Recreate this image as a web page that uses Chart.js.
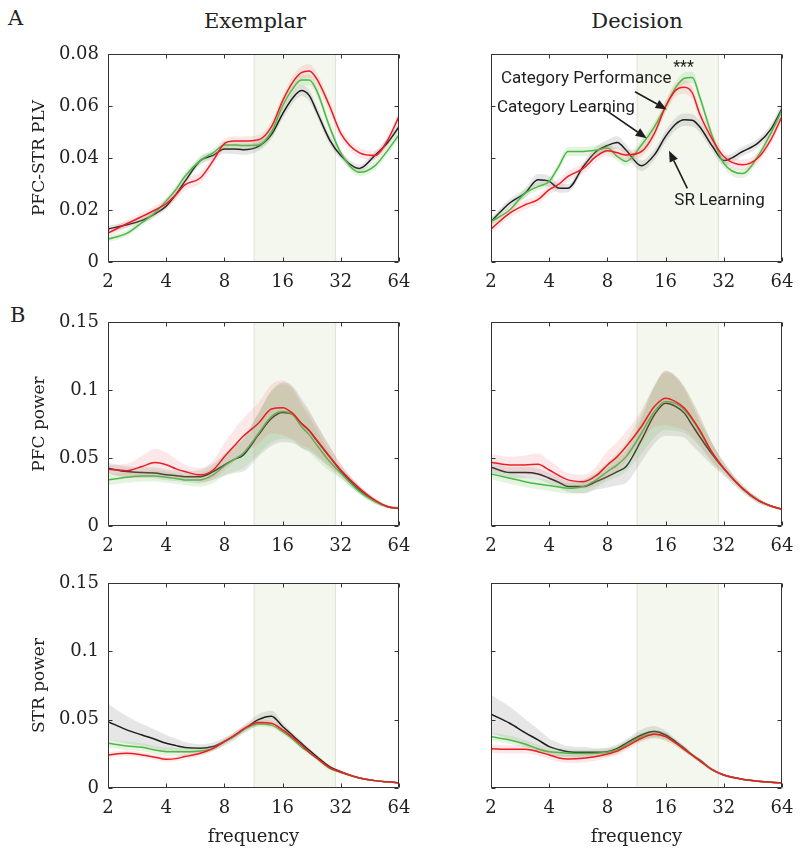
<!DOCTYPE html>
<html>
<head>
<meta charset="utf-8">
<script src="https://cdn.jsdelivr.net/npm/chart.js@4.4.1/dist/chart.umd.min.js"></script>
<style>
  body { margin: 0; background: #fff; width: 800px; height: 856px; position: relative; overflow: hidden; font-family: 'DejaVu Serif', serif; color: #222; }
  canvas { position: absolute; }
  .lbl { position: absolute; font-size: 21px; line-height: 1; white-space: nowrap; }
  .ctr { transform: translateX(-50%); }
</style>
</head>
<body>
<div class="lbl" style="left:8px;top:8px">A</div>
<div class="lbl" style="left:10px;top:305px">B</div>
<div class="lbl ctr" style="left:255px;top:11px">Exemplar</div>
<div class="lbl ctr" style="left:637px;top:11px">Decision</div>
<script>
// frequency axis (Hz), shared by every panel
const freqs = [2, 2.5, 3, 3.5, 4, 4.5, 5, 6, 7, 8, 9, 10, 12, 14, 16, 18, 20, 22, 24, 28, 32, 40, 48, 56, 64];
const freqTicks = [2, 4, 8, 16, 32, 64];
const betaBand = [11.4, 30];
const plvTicks = [0, 0.02, 0.04, 0.06, 0.08];
const powerTicks = [0, 0.05, 0.1, 0.15];

// PFC-STR PLV, exemplar period
const plvExSR      = [0.0127, 0.0143, 0.0160, 0.0185, 0.0215, 0.0260, 0.0310, 0.0390, 0.0410, 0.0435, 0.0435, 0.0432, 0.0445, 0.0490, 0.0570, 0.0630, 0.0660, 0.0640, 0.0580, 0.0470, 0.0410, 0.0360, 0.0410, 0.0460, 0.0520];
const plvExSRErr   = [0.0012, 0.0012, 0.0012, 0.0012, 0.0012, 0.0013, 0.0014, 0.0015, 0.0016, 0.0018, 0.0020, 0.0020, 0.0018, 0.0018, 0.0020, 0.0022, 0.0022, 0.0022, 0.0020, 0.0018, 0.0016, 0.0015, 0.0015, 0.0016, 0.0018];
const plvExCatL    = [0.0088, 0.0110, 0.0152, 0.0190, 0.0235, 0.0280, 0.0330, 0.0390, 0.0420, 0.0450, 0.0450, 0.0448, 0.0450, 0.0500, 0.0600, 0.0665, 0.0700, 0.0700, 0.0660, 0.0520, 0.0420, 0.0345, 0.0370, 0.0430, 0.0490];
const plvExCatLErr = [0.0012, 0.0012, 0.0012, 0.0013, 0.0013, 0.0014, 0.0015, 0.0015, 0.0015, 0.0015, 0.0015, 0.0015, 0.0015, 0.0016, 0.0018, 0.0020, 0.0020, 0.0020, 0.0018, 0.0016, 0.0015, 0.0015, 0.0015, 0.0016, 0.0018];
const plvExCatP    = [0.0111, 0.0147, 0.0175, 0.0200, 0.0224, 0.0260, 0.0297, 0.0323, 0.0390, 0.0455, 0.0465, 0.0465, 0.0470, 0.0520, 0.0620, 0.0690, 0.0728, 0.0735, 0.0705, 0.0600, 0.0495, 0.0420, 0.0410, 0.0470, 0.0560];
const plvExCatPErr = [0.0015, 0.0015, 0.0015, 0.0016, 0.0017, 0.0020, 0.0022, 0.0022, 0.0020, 0.0018, 0.0018, 0.0018, 0.0018, 0.0020, 0.0022, 0.0025, 0.0026, 0.0026, 0.0025, 0.0022, 0.0020, 0.0018, 0.0018, 0.0018, 0.0020];

// PFC-STR PLV, decision period
const plvDecSR      = [0.0156, 0.0227, 0.0265, 0.0316, 0.0310, 0.0284, 0.0284, 0.0367, 0.0425, 0.0448, 0.0460, 0.0430, 0.0370, 0.0412, 0.0483, 0.0530, 0.0547, 0.0545, 0.0520, 0.0444, 0.0390, 0.0425, 0.0457, 0.0510, 0.0590];
const plvDecSRErr   = [0.0015, 0.0016, 0.0018, 0.0022, 0.0022, 0.0018, 0.0016, 0.0016, 0.0018, 0.0022, 0.0024, 0.0022, 0.0020, 0.0020, 0.0022, 0.0024, 0.0024, 0.0024, 0.0022, 0.0020, 0.0018, 0.0018, 0.0018, 0.0020, 0.0022];
const plvDecCatL    = [0.0156, 0.0200, 0.0265, 0.0290, 0.0310, 0.0370, 0.0425, 0.0425, 0.0430, 0.0438, 0.0406, 0.0387, 0.0450, 0.0520, 0.0598, 0.0670, 0.0707, 0.0710, 0.0636, 0.0480, 0.0380, 0.0340, 0.0406, 0.0495, 0.0585];
const plvDecCatLErr = [0.0015, 0.0015, 0.0016, 0.0016, 0.0016, 0.0017, 0.0018, 0.0018, 0.0018, 0.0018, 0.0018, 0.0018, 0.0018, 0.0019, 0.0020, 0.0022, 0.0022, 0.0022, 0.0020, 0.0018, 0.0018, 0.0017, 0.0017, 0.0018, 0.0020];
const plvDecCatP    = [0.0127, 0.0188, 0.0220, 0.0240, 0.0278, 0.0300, 0.0329, 0.0360, 0.0406, 0.0428, 0.0420, 0.0412, 0.0425, 0.0495, 0.0598, 0.0660, 0.0672, 0.0650, 0.0570, 0.0470, 0.0406, 0.0374, 0.0400, 0.0470, 0.0560];
const plvDecCatPErr = [0.0018, 0.0018, 0.0018, 0.0018, 0.0019, 0.0020, 0.0020, 0.0020, 0.0020, 0.0020, 0.0020, 0.0020, 0.0020, 0.0022, 0.0024, 0.0025, 0.0026, 0.0025, 0.0024, 0.0022, 0.0020, 0.0020, 0.0020, 0.0020, 0.0022];

// PFC power, exemplar period
const pfcExSR      = [0.0425, 0.0400, 0.0393, 0.0390, 0.0376, 0.0370, 0.0363, 0.0363, 0.0400, 0.0450, 0.0490, 0.0520, 0.0670, 0.0790, 0.0835, 0.0820, 0.0756, 0.0700, 0.0630, 0.0510, 0.0405, 0.0265, 0.0185, 0.0142, 0.0130];
const pfcExSRErr   = [0.004, 0.004, 0.004, 0.004, 0.004, 0.004, 0.004, 0.005, 0.006, 0.008, 0.010, 0.012, 0.016, 0.020, 0.022, 0.021, 0.018, 0.015, 0.012, 0.008, 0.005, 0.003, 0.002, 0.001, 0.001];
const pfcExCatL    = [0.0339, 0.0358, 0.0368, 0.0368, 0.0358, 0.0350, 0.0339, 0.0339, 0.0376, 0.0442, 0.0490, 0.0535, 0.0680, 0.0805, 0.0842, 0.0820, 0.0732, 0.0670, 0.0597, 0.0474, 0.0388, 0.0253, 0.0180, 0.0142, 0.0130];
const pfcExCatLErr = [0.004, 0.004, 0.004, 0.004, 0.004, 0.004, 0.004, 0.005, 0.006, 0.007, 0.009, 0.011, 0.015, 0.019, 0.020, 0.019, 0.016, 0.013, 0.011, 0.007, 0.004, 0.002, 0.002, 0.001, 0.001];
const pfcExCatP    = [0.0417, 0.0407, 0.0437, 0.0466, 0.0450, 0.0420, 0.0400, 0.0376, 0.0412, 0.0510, 0.0590, 0.0660, 0.0756, 0.0860, 0.0870, 0.0830, 0.0756, 0.0700, 0.0633, 0.0510, 0.0412, 0.0277, 0.0190, 0.0142, 0.0130];
const pfcExCatPErr = [0.003, 0.005, 0.008, 0.010, 0.009, 0.007, 0.005, 0.005, 0.007, 0.010, 0.012, 0.013, 0.015, 0.018, 0.020, 0.019, 0.016, 0.013, 0.011, 0.007, 0.004, 0.002, 0.0015, 0.001, 0.001];

// PFC power, decision period
const pfcDecSR      = [0.0432, 0.0393, 0.0393, 0.0383, 0.0351, 0.0320, 0.0290, 0.0290, 0.0326, 0.0363, 0.0400, 0.0437, 0.0633, 0.0817, 0.0903, 0.0880, 0.0830, 0.0740, 0.0658, 0.0523, 0.0420, 0.0275, 0.0190, 0.0147, 0.0123];
const pfcDecSRErr   = [0.004, 0.004, 0.004, 0.004, 0.004, 0.004, 0.004, 0.005, 0.006, 0.008, 0.010, 0.012, 0.016, 0.021, 0.024, 0.022, 0.018, 0.015, 0.012, 0.008, 0.005, 0.003, 0.002, 0.001, 0.001];
const pfcDecCatL    = [0.0383, 0.0351, 0.0326, 0.0309, 0.0297, 0.0287, 0.0277, 0.0290, 0.0339, 0.0400, 0.0450, 0.0510, 0.0682, 0.0842, 0.0916, 0.0900, 0.0854, 0.0780, 0.0695, 0.0535, 0.0425, 0.0277, 0.0190, 0.0147, 0.0123];
const pfcDecCatLErr = [0.004, 0.004, 0.004, 0.004, 0.004, 0.004, 0.004, 0.005, 0.006, 0.007, 0.009, 0.011, 0.015, 0.019, 0.021, 0.020, 0.017, 0.014, 0.011, 0.007, 0.004, 0.002, 0.002, 0.001, 0.001];
const pfcDecCatP    = [0.0469, 0.0449, 0.0449, 0.0454, 0.0412, 0.0370, 0.0339, 0.0326, 0.0370, 0.0449, 0.0510, 0.0584, 0.0732, 0.0879, 0.0940, 0.0915, 0.0867, 0.0790, 0.0707, 0.0535, 0.0425, 0.0277, 0.0190, 0.0147, 0.0123];
const pfcDecCatPErr = [0.006, 0.006, 0.007, 0.008, 0.007, 0.006, 0.005, 0.005, 0.007, 0.010, 0.011, 0.011, 0.012, 0.015, 0.020, 0.019, 0.016, 0.013, 0.011, 0.007, 0.004, 0.002, 0.0015, 0.001, 0.001];

// STR power, exemplar period
const strExSR      = [0.0486, 0.0425, 0.0388, 0.0357, 0.0327, 0.0310, 0.0296, 0.0290, 0.0303, 0.0340, 0.0380, 0.0425, 0.0500, 0.0525, 0.0450, 0.0385, 0.0327, 0.0275, 0.0230, 0.0156, 0.0120, 0.0073, 0.0054, 0.0045, 0.0039];
const strExSRErr   = [0.013, 0.010, 0.008, 0.007, 0.006, 0.005, 0.004, 0.003, 0.003, 0.003, 0.003, 0.003, 0.004, 0.004, 0.003, 0.002, 0.002, 0.0015, 0.0015, 0.001, 0.001, 0.0005, 0.0005, 0.0005, 0.0005];
const strExCatL    = [0.0327, 0.0308, 0.0298, 0.0278, 0.0266, 0.0266, 0.0266, 0.0271, 0.0290, 0.0340, 0.0380, 0.0425, 0.0469, 0.0460, 0.0413, 0.0360, 0.0300, 0.0260, 0.0217, 0.0144, 0.0115, 0.0073, 0.0054, 0.0045, 0.0039];
const strExCatLErr = [0.003, 0.003, 0.003, 0.003, 0.003, 0.003, 0.003, 0.003, 0.002, 0.002, 0.002, 0.002, 0.002, 0.002, 0.002, 0.002, 0.0015, 0.0015, 0.001, 0.001, 0.001, 0.0005, 0.0005, 0.0005, 0.0005];
const strExCatP    = [0.0242, 0.0254, 0.0242, 0.0225, 0.0210, 0.0215, 0.0230, 0.0254, 0.0290, 0.0340, 0.0385, 0.0430, 0.0479, 0.0474, 0.0425, 0.0370, 0.0315, 0.0260, 0.0220, 0.0150, 0.0115, 0.0073, 0.0054, 0.0045, 0.0039];
const strExCatPErr = [0.002, 0.002, 0.002, 0.002, 0.002, 0.002, 0.002, 0.002, 0.002, 0.002, 0.002, 0.002, 0.002, 0.002, 0.002, 0.002, 0.0015, 0.0015, 0.001, 0.001, 0.001, 0.0005, 0.0005, 0.0005, 0.0005];

// STR power, decision period
const strDecSR      = [0.0540, 0.0474, 0.0405, 0.0352, 0.0303, 0.0280, 0.0266, 0.0261, 0.0261, 0.0266, 0.0290, 0.0327, 0.0388, 0.0413, 0.0388, 0.0340, 0.0290, 0.0240, 0.0205, 0.0132, 0.0095, 0.0064, 0.0050, 0.0042, 0.0038];
const strDecSRErr   = [0.014, 0.012, 0.010, 0.008, 0.006, 0.005, 0.004, 0.004, 0.003, 0.003, 0.003, 0.003, 0.004, 0.004, 0.003, 0.002, 0.002, 0.0015, 0.0015, 0.001, 0.001, 0.0005, 0.0005, 0.0005, 0.0005];
const strDecCatL    = [0.0376, 0.0352, 0.0322, 0.0286, 0.0266, 0.0260, 0.0254, 0.0252, 0.0254, 0.0261, 0.0280, 0.0315, 0.0376, 0.0396, 0.0376, 0.0330, 0.0283, 0.0240, 0.0200, 0.0132, 0.0095, 0.0064, 0.0050, 0.0042, 0.0038];
const strDecCatLErr = [0.003, 0.003, 0.003, 0.003, 0.003, 0.003, 0.003, 0.003, 0.003, 0.003, 0.003, 0.003, 0.003, 0.003, 0.003, 0.002, 0.002, 0.0015, 0.0015, 0.001, 0.001, 0.0005, 0.0005, 0.0005, 0.0005];
const strDecCatP    = [0.0288, 0.0283, 0.0283, 0.0266, 0.0242, 0.0220, 0.0213, 0.0217, 0.0230, 0.0249, 0.0270, 0.0303, 0.0364, 0.0393, 0.0376, 0.0330, 0.0283, 0.0240, 0.0200, 0.0132, 0.0095, 0.0064, 0.0050, 0.0042, 0.0038];
const strDecCatPErr = [0.003, 0.003, 0.003, 0.003, 0.003, 0.003, 0.003, 0.003, 0.003, 0.003, 0.003, 0.003, 0.003, 0.003, 0.003, 0.002, 0.002, 0.0015, 0.0015, 0.001, 0.001, 0.0005, 0.0005, 0.0005, 0.0005];

// annotation anchors for the decision PLV panel, in [frequency, PLV]
const noteLabels = [
  { text: 'Category Performance', at: [2.25, 0.0703], align: 'left' },
  { text: 'Category Learning', at: [2.146, 0.0594], align: 'left' },
  { text: 'SR Learning', at: [30.4, 0.0236], align: 'center' },
  { text: '***', at: [19.8, 0.0745], align: 'center' }
];
const noteArrows = [
  { from: [11.11, 0.0655], to: [16.2, 0.0587] },
  { from: [7.62, 0.0591], to: [12.77, 0.0476] },
  { from: [20.72, 0.0283], to: [16.66, 0.0428] }
];

const colSR = '#1c1c1c', colCatL = '#4cb848', colCatP = '#ec1c24';
const fillSR = 'rgba(130,130,130,0.20)', fillCatL = 'rgba(120,200,100,0.20)', fillCatP = 'rgba(240,120,120,0.17)';
const tickFont = { family: 'DejaVu Serif', size: 18 };
const titleFont = { family: 'DejaVu Serif', size: 17 };

const framePlugin = {
  id: 'frame',
  afterDatasetsDraw(chart) {
    const { ctx, chartArea: a, scales: { x, y } } = chart;
    const L = Math.round(a.left) + 0.5, R = Math.round(a.right) - 0.5;
    const T = Math.round(a.top) + 0.5, B = Math.round(a.bottom) - 0.5;
    ctx.save();
    ctx.strokeStyle = '#333';
    ctx.lineWidth = 1;
    ctx.beginPath();
    x.ticks.forEach(t => {
      const px = Math.round(x.getPixelForValue(t.value)) + 0.5;
      ctx.moveTo(px, B); ctx.lineTo(px, B - 4);
      ctx.moveTo(px, T); ctx.lineTo(px, T + 4);
    });
    y.ticks.forEach(t => {
      const py = Math.round(y.getPixelForValue(t.value)) + 0.5;
      ctx.moveTo(L, py); ctx.lineTo(L + 4, py);
      ctx.moveTo(R, py); ctx.lineTo(R - 4, py);
    });
    ctx.rect(L, T, R - L, B - T);
    ctx.stroke();
    ctx.restore();
  }
};

const notesPlugin = {
  id: 'notes',
  afterDatasetsDraw(chart) {
    const { ctx, scales: { x, y } } = chart;
    ctx.save();
    ctx.fillStyle = '#1e1e1e';
    ctx.strokeStyle = '#1e1e1e';
    ctx.lineWidth = 1.6;
    noteArrows.forEach(a => {
      const x0 = x.getPixelForValue(a.from[0]), y0 = y.getPixelForValue(a.from[1]);
      const x1 = x.getPixelForValue(a.to[0]), y1 = y.getPixelForValue(a.to[1]);
      const ang = Math.atan2(y1 - y0, x1 - x0);
      const hl = 11, hw = 4.5;
      const bx = x1 - hl * Math.cos(ang), by = y1 - hl * Math.sin(ang);
      ctx.beginPath(); ctx.moveTo(x0, y0); ctx.lineTo(bx, by); ctx.stroke();
      ctx.beginPath();
      ctx.moveTo(x1, y1);
      ctx.lineTo(bx + hw * Math.sin(ang), by - hw * Math.cos(ang));
      ctx.lineTo(bx - hw * Math.sin(ang), by + hw * Math.cos(ang));
      ctx.closePath(); ctx.fill();
    });
    ctx.textBaseline = 'middle';
    noteLabels.forEach(l => {
      ctx.font = (l.text === '***' ? '16px' : '17px') + ' Roboto';
      ctx.textAlign = l.align;
      ctx.fillText(l.text, x.getPixelForValue(l.at[0]), y.getPixelForValue(l.at[1]));
    });
    ctx.restore();
  }
};

function pts(arr) { return arr.map((v, i) => ({ x: freqs[i], y: v })); }

function seriesSets(mean, err, color, fill, order) {
  return [
    { data: mean.map((v, i) => ({ x: freqs[i], y: v + err[i] })), fill: '+1', backgroundColor: fill, borderWidth: 0, order: order + 1 },
    { data: mean.map((v, i) => ({ x: freqs[i], y: v - err[i] })), fill: false, borderWidth: 0, order: order + 1 },
    { data: pts(mean), borderColor: color, borderWidth: 1.5, fill: false, order: order }
  ];
}

function bandSet(yMax) {
  return {
    data: [{ x: betaBand[0], y: 0 }, { x: betaBand[0], y: yMax }, { x: betaBand[1], y: yMax }, { x: betaBand[1], y: 0 }],
    fill: 'start', backgroundColor: '#f4f7ee', borderColor: '#e1e5dc', borderWidth: 1.2,
    cubicInterpolationMode: 'default', tension: 0, order: 30
  };
}

const panels = [
  { left: 108, top: 54, h: 208, yMax: 0.08, yTicks: plvTicks, yTitle: 'PFC-STR PLV', showY: true,
    series: [[plvExSR, plvExSRErr], [plvExCatL, plvExCatLErr], [plvExCatP, plvExCatPErr]] },
  { left: 491, top: 54, h: 208, yMax: 0.08, yTicks: plvTicks, showY: false, notes: true,
    series: [[plvDecSR, plvDecSRErr], [plvDecCatL, plvDecCatLErr], [plvDecCatP, plvDecCatPErr]] },
  { left: 108, top: 322, h: 204, yMax: 0.15, yTicks: powerTicks, yTitle: 'PFC power', showY: true,
    series: [[pfcExSR, pfcExSRErr], [pfcExCatL, pfcExCatLErr], [pfcExCatP, pfcExCatPErr]] },
  { left: 491, top: 322, h: 204, yMax: 0.15, yTicks: powerTicks, showY: false,
    series: [[pfcDecSR, pfcDecSRErr], [pfcDecCatL, pfcDecCatLErr], [pfcDecCatP, pfcDecCatPErr]] },
  { left: 108, top: 583, h: 205, yMax: 0.15, yTicks: powerTicks, yTitle: 'STR power', xTitle: 'frequency', showY: true,
    series: [[strExSR, strExSRErr], [strExCatL, strExCatLErr], [strExCatP, strExCatPErr]] },
  { left: 491, top: 583, h: 205, yMax: 0.15, yTicks: powerTicks, xTitle: 'frequency', showY: false,
    series: [[strDecSR, strDecSRErr], [strDecCatL, strDecCatLErr], [strDecCatP, strDecCatPErr]] }
];

panels.forEach(p => {
  const canvas = document.createElement('canvas');
  canvas.width = 291 + 112;
  canvas.height = p.h + 12 + 62;
  canvas.style.left = (p.left - 100) + 'px';
  canvas.style.top = (p.top - 12) + 'px';
  document.body.appendChild(canvas);

  const datasets = [bandSet(p.yMax)]
    .concat(seriesSets(p.series[0][0], p.series[0][1], colSR, fillSR, 10))
    .concat(seriesSets(p.series[1][0], p.series[1][1], colCatL, fillCatL, 7))
    .concat(seriesSets(p.series[2][0], p.series[2][1], colCatP, fillCatP, 4));

  new Chart(canvas.getContext('2d'), {
    type: 'line',
    data: { datasets },
    options: {
      responsive: false,
      animation: false,
      devicePixelRatio: 1,
      layout: { padding: { top: 12, right: 12, left: 0, bottom: 0 } },
      elements: { point: { radius: 0 }, line: { cubicInterpolationMode: 'monotone' } },
      plugins: { legend: { display: false }, tooltip: { enabled: false } },
      scales: {
        x: {
          type: 'logarithmic', min: 2, max: 64,
          afterBuildTicks: s => { s.ticks = freqTicks.map(v => ({ value: v })); },
          afterFit: s => { s.height = 62; s.paddingLeft = 0; s.paddingRight = 0; },
          grid: { display: false, drawTicks: false },
          border: { display: false },
          ticks: { autoSkip: false, maxRotation: 0, padding: 10, font: tickFont, color: '#222', callback: v => String(v) },
          title: { display: !!p.xTitle, text: p.xTitle || '', font: tickFont, color: '#222', padding: { top: 0, bottom: 2 } }
        },
        y: {
          min: 0, max: p.yMax,
          afterBuildTicks: s => { s.ticks = p.yTicks.map(v => ({ value: v })); },
          afterFit: s => { s.width = 100; s.paddingTop = 0; s.paddingBottom = 0; },
          grid: { display: false, drawTicks: false },
          border: { display: false },
          ticks: { display: p.showY, padding: 9, font: tickFont, color: '#222', callback: v => (v === 0 ? '0' : String(v)) },
          title: { display: !!p.yTitle, text: p.yTitle || '', font: titleFont, color: '#222', padding: { top: 21, bottom: 0 } }
        }
      }
    },
    plugins: p.notes ? [framePlugin, notesPlugin] : [framePlugin]
  });
});
</script>
</body>
</html>
